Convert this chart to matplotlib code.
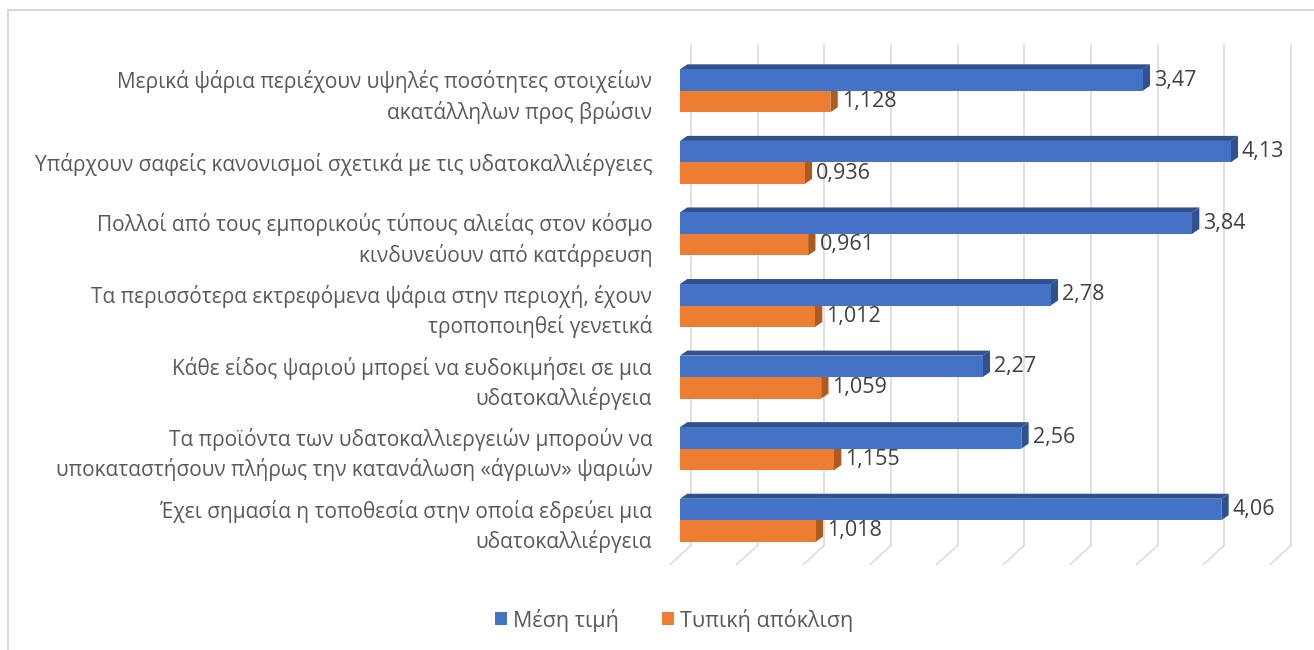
import matplotlib.pyplot as plt
from matplotlib.patches import Polygon, Rectangle

plt.rcParams['font.family'] = ['Open Sans', 'DejaVu Sans']

categories = [
    "Μερικά ψάρια περιέχουν υψηλές ποσότητες στοιχείων\nακατάλληλων προς βρώσιν",
    "Υπάρχουν σαφείς κανονισμοί σχετικά με τις υδατοκαλλιέργειες",
    "Πολλοί από τους εμπορικούς τύπους αλιείας στον κόσμο\nκινδυνεύουν από κατάρρευση",
    "Τα περισσότερα εκτρεφόμενα ψάρια στην περιοχή, έχουν\nτροποποιηθεί γενετικά",
    "Κάθε είδος ψαριού μπορεί να ευδοκιμήσει σε μια\nυδατοκαλλιέργεια",
    "Τα προϊόντα των υδατοκαλλιεργειών μπορούν να\nυποκαταστήσουν πλήρως την κατανάλωση «άγριων» ψαριών",
    "Έχει σημασία η τοποθεσία στην οποία εδρεύει μια\nυδατοκαλλιέργεια",
]
mean_vals = [3.47, 4.13, 3.84, 2.78, 2.27, 2.56, 4.06]
std_vals = [1.128, 0.936, 0.961, 1.012, 1.059, 1.155, 1.018]
series_names = ["Μέση τιμή", "Τυπική απόκλιση"]

BLUE, BLUE_DARK = '#4472C4', '#2F528F'
ORANGE, ORANGE_DARK = '#ED7D31', '#AE5A21'
GRID = '#D9D9D9'
TEXT = '#595959'

W, H = 1314, 650
fig = plt.figure(figsize=(W / 100, H / 100), dpi=100)
ax = fig.add_axes([680 / W, 1 - 566 / H, 600 / W, 521 / H])
ax.set_xlim(0, 4.5)
ax.set_ylim(6.64, -0.64)

# fake 3d depth (data units)
dx, dy = 0.055, 0.07
back = 0.083
floor_dx = 0.075

# gridlines on back wall + floor
for gx in [i * 0.5 for i in range(10)]:
    ax.plot([gx + back, gx + back], [-0.64, 6.35], color=GRID, lw=1.1,
            clip_on=False, zorder=0)
    ax.plot([gx + back, gx - floor_dx], [6.35, 6.62], color=GRID, lw=1.1,
            clip_on=False, zorder=0)

bh = 0.3
pos = list(range(len(categories)))


def draw_3d(values, offset, face, dark, fmt):
    ys = [p + offset for p in pos]
    bars = ax.barh(ys, values, height=bh, color=face, zorder=3)
    for y, w, lab in zip(ys, values, fmt):
        y0, y1 = y - bh / 2, y + bh / 2
        top = Polygon([(0, y0), (dx, y0 - dy), (w + dx, y0 - dy), (w, y0)],
                      closed=True, facecolor=dark, edgecolor='none', zorder=2)
        side = Polygon([(w, y0), (w + dx, y0 - dy), (w + dx, y1 - dy), (w, y1)],
                       closed=True, facecolor=dark, edgecolor='none', zorder=2)
        ax.add_patch(top)
        ax.add_patch(side)
        ax.text(w + dx + 0.03, y, lab, va='center', ha='left',
                fontsize=15.5, color='#404040', zorder=4)
    return bars


b1 = draw_3d(mean_vals, -bh / 2, BLUE, BLUE_DARK,
             [f"{v:.2f}".replace('.', ',') for v in mean_vals])
b2 = draw_3d(std_vals, bh / 2, ORANGE, ORANGE_DARK,
             [f"{v:.3f}".replace('.', ',') for v in std_vals])

ax.set_yticks(pos)
ax.set_yticklabels(categories, fontsize=15, color=TEXT, linespacing=1.4,
                   ha='right')
ax.tick_params(axis='y', length=0, pad=20)
ax.set_xticks([])
for s in ax.spines.values():
    s.set_visible(False)
ax.patch.set_alpha(0)

fig.legend([b1, b2], series_names, loc='center', bbox_to_anchor=(0.513, 0.046),
           ncol=2, frameon=False, handlelength=0.55, handleheight=0.55,
           handletextpad=0.3, columnspacing=2.0, fontsize=15.5,
           labelcolor=TEXT)

fig.patches.append(Rectangle((8 / W, -0.05), 1.1, 1 - 10 / H + 0.05,
                             transform=fig.transFigure, fill=False,
                             edgecolor=GRID, lw=1.5))

fig.savefig('out.png', dpi=100)
